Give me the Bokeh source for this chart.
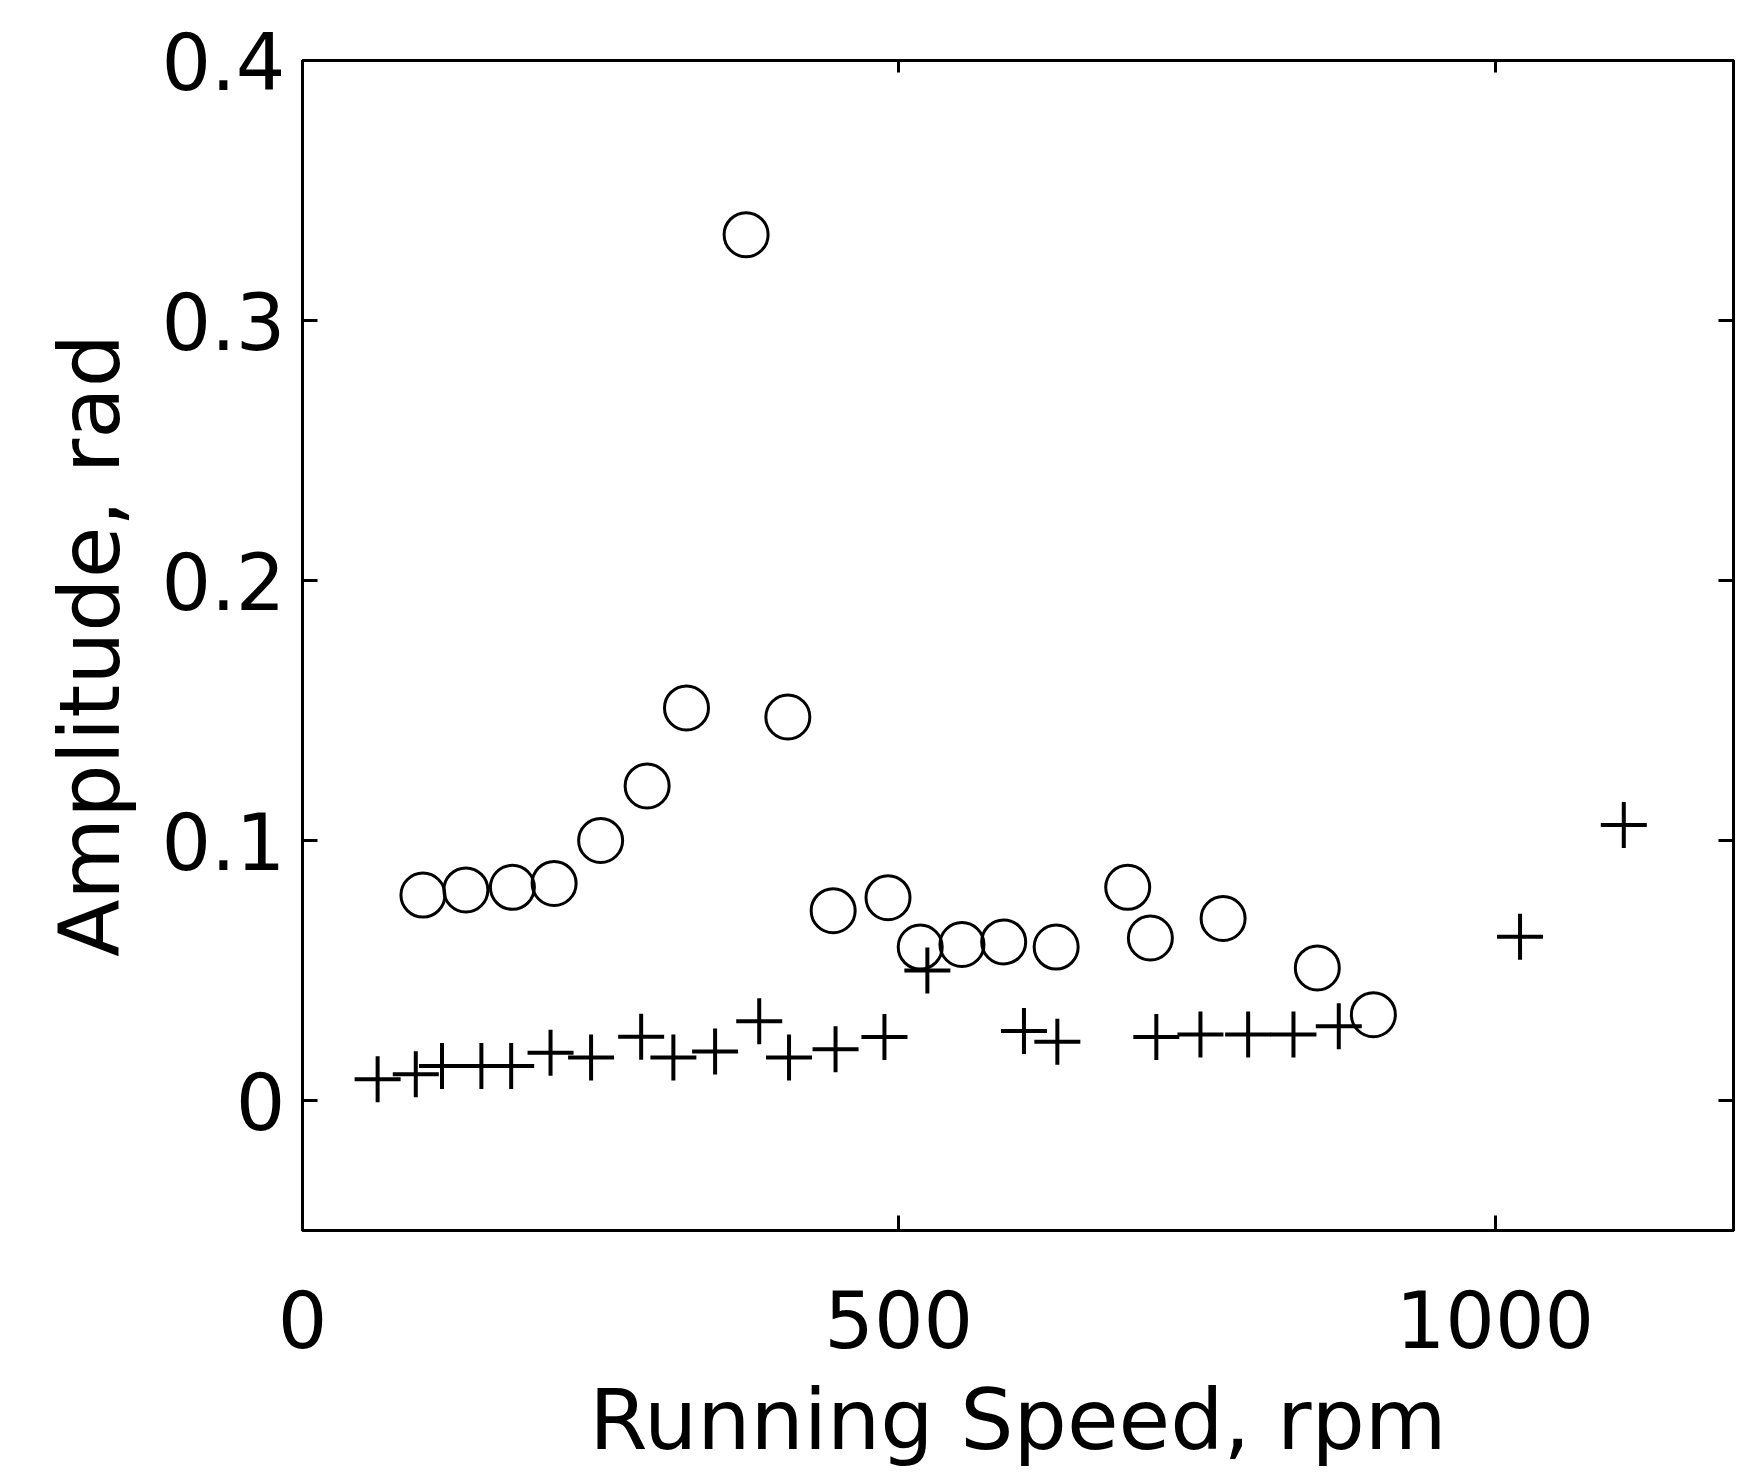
from bokeh.plotting import figure
from bokeh.models import Range1d, FixedTicker, LinearAxis, CustomJSTickFormatter
from bokeh.embed import file_html
from bokeh.resources import INLINE

# ---- data ----
circle_rpm = [101, 137, 176, 211, 250, 289, 322, 372, 407, 445,
              491, 518, 553, 588, 632, 692, 711, 772, 851, 898]
circle_amp = [0.079, 0.081, 0.082, 0.0835, 0.100, 0.121, 0.151, 0.333, 0.1475, 0.073,
              0.078, 0.059, 0.060, 0.061, 0.059, 0.082, 0.0625, 0.070, 0.051, 0.033]

cross_rpm = [63, 95, 117, 150, 175, 208, 242, 284, 311, 346, 383, 408,
             447, 488, 524, 605, 633, 716, 753, 793, 831, 869, 1021, 1108]
cross_amp = [0.0082, 0.0101, 0.0133, 0.0133, 0.0133, 0.0184, 0.0165, 0.0245, 0.0165,
             0.0188, 0.0305, 0.0165, 0.0197, 0.0244, 0.050, 0.0267, 0.0226, 0.0244,
             0.0254, 0.0254, 0.0254, 0.0286, 0.063, 0.106]

x_ticks = [0, 500, 1000]
y_ticks = [0, 0.1, 0.2, 0.3, 0.4]
x_label = "Running Speed, rpm"
y_label = "Amplitude, rad"

FONT = "DejaVu Sans"

p = figure(width=1743, height=1471, output_backend="svg", toolbar_location=None,
           x_range=Range1d(0, 1200), y_range=Range1d(-0.05, 0.4),
           min_border_left=302, min_border_right=10, min_border_top=60,
           min_border_bottom=200)

p.background_fill_color = "white"
p.border_fill_color = "white"
p.outline_line_color = "black"
p.outline_line_width = 3
p.xgrid.visible = False
p.ygrid.visible = False

p.scatter(circle_rpm, circle_amp, marker="circle", size=44, fill_color=None,
          line_color="black", line_width=3)
p.scatter(cross_rpm, cross_amp, marker="cross", size=46,
          line_color="black", line_width=4)

for ax in (p.xaxis[0], p.yaxis[0]):
    ax.axis_line_color = "black"
    ax.axis_line_width = 3
    ax.major_tick_in = 15
    ax.major_tick_out = 0
    ax.major_tick_line_width = 3
    ax.minor_tick_line_color = None
    ax.major_label_text_font = FONT
    ax.major_label_text_font_size = "78px"
    ax.major_label_text_color = "black"
    ax.axis_label_text_font = FONT
    ax.axis_label_text_font_size = "84px"
    ax.axis_label_text_font_style = "normal"
    ax.axis_label_text_color = "black"

p.xaxis[0].ticker = FixedTicker(ticks=x_ticks)
p.yaxis[0].ticker = FixedTicker(ticks=y_ticks)
p.xaxis[0].axis_label = x_label
p.yaxis[0].axis_label = y_label
p.xaxis[0].major_label_standoff = 59
p.xaxis[0].axis_label_standoff = 20
p.yaxis[0].major_label_standoff = 17
p.yaxis[0].axis_label_standoff = 19

blank = CustomJSTickFormatter(code="return ''")
top_ax = LinearAxis(ticker=FixedTicker(ticks=x_ticks), formatter=blank,
                    major_tick_in=12, major_tick_out=0, major_tick_line_width=3,
                    minor_tick_line_color=None, axis_line_color="black",
                    axis_line_width=3, major_label_standoff=0)
right_ax = LinearAxis(ticker=FixedTicker(ticks=y_ticks), formatter=blank,
                      major_tick_in=15, major_tick_out=0, major_tick_line_width=3,
                      minor_tick_line_color=None, axis_line_color="black",
                      axis_line_width=3, major_label_standoff=0)
p.add_layout(top_ax, "above")
p.add_layout(right_ax, "right")

open("out.html", "w").write(file_html(p, INLINE))
